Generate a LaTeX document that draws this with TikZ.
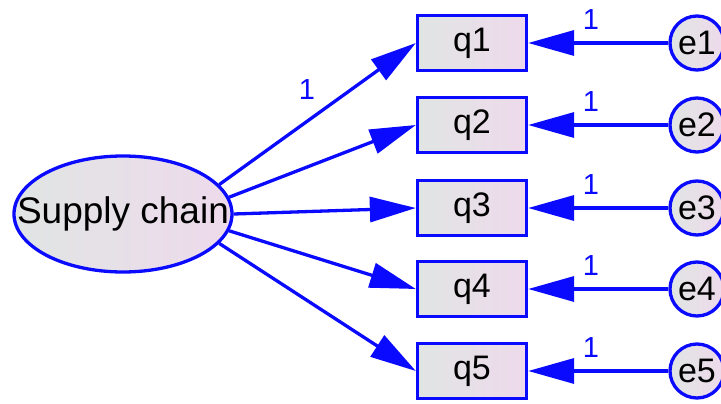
\documentclass[tikz,border=0pt]{standalone}
\usepackage{fontspec}
\setmainfont{Liberation Sans}
\usetikzlibrary{arrows.meta,shapes.geometric}

\definecolor{edgeblue}{RGB}{10,10,255}
\definecolor{fillL}{RGB}{224,229,227}
\definecolor{fillR}{RGB}{238,218,236}

\tikzset{
  shade2/.style={left color=fillL, right color=fillR},
  latent/.style={ellipse, draw=edgeblue, line width=3.3pt, shade2,
    minimum width=218pt, minimum height=116pt, inner sep=0pt,
    font=\fontsize{37}{40}\selectfont},
  observed/.style={rectangle, draw=edgeblue, line width=3.3pt, shade2,
    minimum width=109pt, minimum height=55pt, inner sep=0pt,
    font=\fontsize{34}{38}\selectfont},
  errnode/.style={circle, draw=edgeblue, line width=3.3pt, shade2,
    minimum size=54pt, inner sep=0pt,
    font=\fontsize{34}{38}\selectfont},
  path/.style={draw=edgeblue, line width=3.3pt,
    -{Triangle[length=46pt,width=25pt]}},
  weight/.style={text=edgeblue, font=\fontsize{29}{31}\selectfont, inner sep=0pt}
}

\begin{document}
\begin{tikzpicture}[x=1pt,y=-1pt]
  \useasboundingbox (0,0) rectangle (721,404);

  \node[latent] (sc) at (123,214) {\makebox[0pt]{Supply chain}};

  \foreach \i/\y in {1/43,2/125,3/208,4/289,5/371}{
    \node[observed] (q\i) at (472,\y) {q\i};
    \node[errnode] (e\i) at (697,\y) {e\i};
    \draw[path] (e\i) -- (q\i);
    \node[weight] (w\i) at (591,\y-23) {1};
  }

  \draw[path] (sc.17) -- (q1.west);
  \draw[path] (sc.9) -- (q2.west);
  \draw[path] (sc.0) -- (q3.west);
  \draw[path] (sc.-9) -- (q4.west);
  \draw[path] (sc.-17) -- (q5.west);

  \node[weight] (w0) at (307,90) {1};
\end{tikzpicture}
\end{document}
